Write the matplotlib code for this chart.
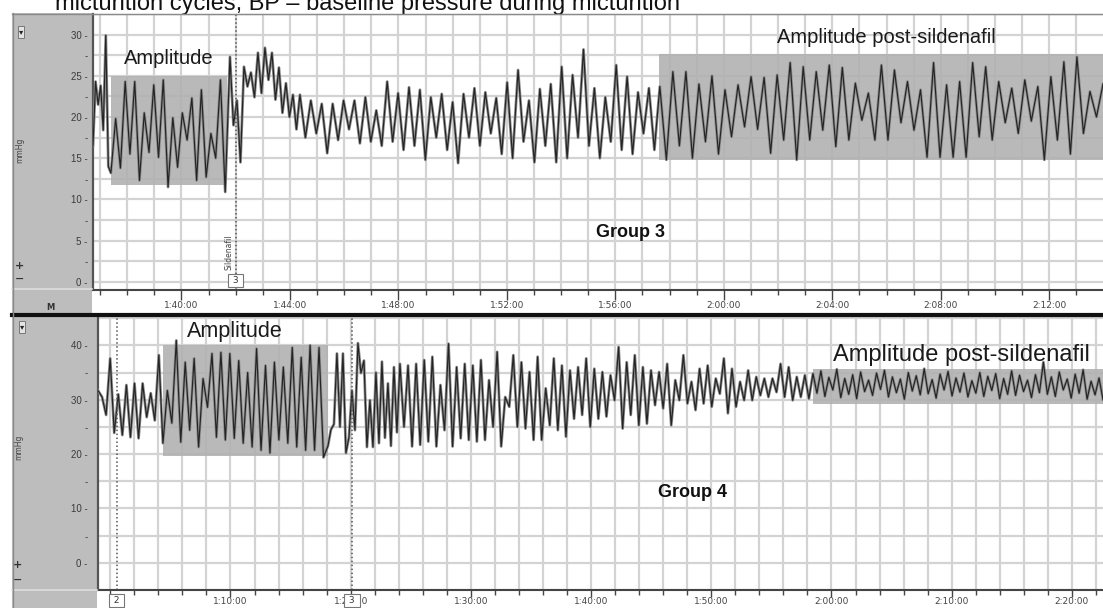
import numpy as np
import matplotlib
matplotlib.use("Agg")
import matplotlib.pyplot as plt
from matplotlib.patches import Rectangle
from matplotlib.lines import Line2D

plt.rcParams['font.family'] = ['Liberation Sans', 'DejaVu Sans']

# ------------------------------------------------------------------ data
caption = "micturition cycles, BP \u2013 baseline pressure during micturition"

# ---- Group 3 (top trace), time in minutes, pressure in mmHg
g3_title = "Group 3"
g3_xlim = (96.74, 133.98)
g3_ylim = (-1.0, 32.5)
g3_yticks = [0, 5, 10, 15, 20, 25, 30]
g3_yminor = [2.5, 7.5, 12.5, 17.5, 22.5, 27.5]
g3_xticks = [100, 104, 108, 112, 116, 120, 124, 128, 132]
g3_xticklabels = ["1:40:00", "1:44:00", "1:48:00", "1:52:00", "1:56:00",
                  "2:00:00", "2:04:00", "2:08:00", "2:12:00"]
g3_bounds = [96.74, 97.40, 101.79, 104.37, 117.64, 133.98]
g3_pre = [16.5, 24.3, 21.5, 23.8, 18.4, 29.9, 14.0]
g3_amp = [13.2, 19.8, 13.8, 24.3, 15.5, 24.3, 12.3, 20.5, 15.7, 23.9, 15.1,
          24.5, 11.5, 19.9, 13.9, 20.5, 17.2, 22.3, 12.3, 23.3, 12.7, 18.0,
          15.0, 24.5, 10.9]
g3_rise = [27.3, 19.0, 22.0, 14.5, 26.1, 23.7, 25.4, 22.4, 27.8, 22.9, 28.4,
           24.5, 27.8, 22.1, 26.0, 20.5, 24.1, 20.0, 22.7, 18.5]
g3_mid = [22.7, 17.5, 22.0, 18.0, 21.6, 15.6, 21.6, 17.2, 22.0, 18.5, 22.0,
          16.8, 22.4, 17.0, 20.8, 16.5, 24.3, 17.0, 22.9, 16.0,
          23.6, 16.5, 23.3, 14.8, 22.4, 17.5, 22.8, 16.0, 21.8, 14.4, 22.8,
          17.5, 23.5, 16.5, 23.0, 18.0, 22.3, 15.5, 24.2, 15.0, 25.7, 17.0,
          22.0, 14.5, 23.4, 16.5, 24.0, 14.5, 26.1, 15.0, 25.1, 17.5, 28.2,
          16.5, 23.5, 15.0, 22.4, 17.0, 26.3, 16.0, 24.9, 15.5, 23.0, 18.0,
          23.5, 16.0]
g3_post = [23.7, 14.8, 25.5, 16.5, 25.5, 15.0, 24.0, 17.0, 25.0, 15.5,
           23.3, 17.6, 23.9, 18.8, 24.9, 18.5, 24.8, 15.6, 25.1, 17.2,
           26.6, 14.8, 26.1, 17.2, 25.5, 18.4, 26.3, 16.4, 26.0, 17.2,
           24.1, 19.6, 22.9, 17.2, 26.3, 17.2, 25.7, 19.3, 24.3, 18.4,
           23.3, 15.1, 26.6, 15.1, 23.9, 15.1, 24.3, 15.1, 26.6, 17.6,
           26.1, 17.2, 24.3, 19.3, 23.5, 18.0, 24.5, 19.5, 23.7, 14.8,
           24.9, 17.2, 26.7, 15.5, 27.3, 18.0, 23.1, 20.0, 24.0]
g3_marker_time = 102.0
g3_marker_text = "Sildenafil"
g3_marker_num = "3"
g3_amp_box = (97.40, 101.68, 11.8, 25.0)
g3_post_box = (117.61, 134.5, 14.75, 27.7)

# ---- Group 4 (bottom trace)
g4_title = "Group 4"
g4_xlim = (58.98, 142.59)
g4_ylim = (-4.86, 45.4)
g4_yticks = [0, 10, 20, 30, 40]
g4_yminor = [5, 15, 25, 35]
g4_xticks = [70, 80, 90, 100, 110, 120, 130, 140]
g4_xticklabels = ["1:10:00", "1:20:00", "1:30:00", "1:40:00", "1:50:00",
                  "2:00:00", "2:10:00", "2:20:00"]
g4_bounds = [58.98, 64.38, 78.11, 84.10, 118.46, 142.59]
g4_pre = [31.7, 30.5, 27.2, 37.6, 23.9, 31.0, 23.5, 32.7, 23.1, 33.0, 22.9,
          33.0, 26.8, 31.2, 26.2, 38.2]
g4_amp = [22.0, 31.7, 25.7, 40.9, 22.2, 36.9, 24.4, 37.6, 21.3, 33.9, 28.6,
          38.5, 23.1, 38.7, 22.6, 38.5, 22.9, 37.2, 22.0, 35.0, 21.3, 39.4,
          20.7, 36.3, 20.2, 36.9, 22.6, 36.0, 22.0, 39.6, 21.3, 37.8, 20.7,
          40.0, 20.7, 39.6, 19.4]
g4_after = [21.5, 24.5, 25.5, 38.5, 25.0, 38.5, 20.2, 23.1, 31.7, 24.4, 40.4,
            34.9, 37.2, 21.3, 29.9, 21.3, 35.0, 22.0, 37.0, 23.0, 33.0, 21.5,
            36.0, 24.0]
g4_mid_peaks = [36.6, 36.3, 36.6, 37.3, 37.9, 32.7, 40.3, 36.0, 36.6, 36.3,
                37.3, 33.6, 38.8, 30.5, 38.2, 36.9, 35.1, 37.9, 32.1, 37.6,
                36.3, 35.4, 36.0, 37.6, 35.7, 35.1, 34.5, 39.7, 36.9, 38.2,
                36.0, 35.4, 35.1, 36.6, 33.6, 38.2, 33.3, 35.7, 36.3, 33.9,
                37.6, 35.7, 33.3, 35.4, 34.2, 33.9, 33.9, 36.6, 36.0, 34.2,
                34.5]
g4_mid_troughs = [25.0, 21.4, 21.7, 22.3, 21.4, 24.4, 21.4, 22.9, 22.6, 22.3,
                  22.6, 25.0, 21.4, 28.7, 25.0, 24.7, 22.6, 22.6, 25.3, 24.4,
                  23.2, 26.5, 27.2, 25.0, 26.5, 26.9, 29.9, 24.7, 27.2, 25.3,
                  25.6, 29.0, 28.4, 25.3, 29.9, 29.3, 28.1, 29.3, 28.7, 31.1,
                  27.5, 28.7, 29.9, 29.9, 30.8, 30.5, 31.4, 30.5, 29.9, 30.5,
                  30.2]
g4_post = [34.8, 31.2, 35.3, 30.6, 34.1, 31.8, 35.6, 30.4, 33.9, 31.0, 34.6,
           30.2, 35.1, 31.5, 33.6, 30.8, 34.9, 31.9, 35.4, 30.5, 34.2, 31.3,
           33.8, 30.1, 35.0, 31.6, 34.4, 30.9, 35.7, 31.1, 33.7, 30.3, 34.7,
           31.8, 35.2, 30.7, 34.0, 31.4, 34.9, 30.5, 33.5, 31.2, 35.0, 30.6,
           34.3, 31.7, 34.8, 30.2, 33.9, 31.0, 35.3, 30.8, 34.5, 31.5, 33.6,
           30.4, 34.6, 31.3, 36.9, 31.0, 34.2, 30.6, 35.1, 31.8, 33.8, 30.3,
           34.7, 31.2, 35.5, 30.1, 33.4, 30.9, 34.0, 30.0]
g4_marker_times = [60.56, 80.11]
g4_marker_nums = ["2", "3"]
g4_amp_box = (64.38, 78.11, 19.6, 40.0)
g4_post_box = (118.46, 143.5, 29.2, 35.6)

# ------------------------------------------------------------------ helpers
W, H = 1103, 608
fig = plt.figure(figsize=(W / 100, H / 100), dpi=100)
fig.patch.set_facecolor('white')


def px_box(x0, y0, x1, y1):
    return [x0 / W, 1 - y1 / H, (x1 - x0) / W, (y1 - y0) / H]


def series(bounds, segs):
    ts, vs = [], []
    for i, seg in enumerate(segs):
        last = (i == len(segs) - 1)
        ts.append(np.linspace(bounds[i], bounds[i + 1], len(seg), endpoint=last))
        vs.append(np.asarray(seg, float))
    return np.concatenate(ts), np.concatenate(vs)


def fig_rect(x0, y0, x1, y1, **kw):
    fig.add_artist(Rectangle((x0 / W, 1 - y1 / H), (x1 - x0) / W, (y1 - y0) / H,
                             transform=fig.transFigure, **kw))


def fig_hline(x0, x1, y, **kw):
    fig.add_artist(Line2D([x0 / W, x1 / W], [1 - y / H, 1 - y / H],
                          transform=fig.transFigure, **kw))


SIDE = '#bdbdbd'
GRID = '#d3d3d3'
SHADE = '#b0b0b0'

# ------------------------------------------------------------------ frame
fig_rect(12, 13, 92, 313, fc=SIDE, ec='none', zorder=0)
fig_rect(12, 316, 97, 608, fc=SIDE, ec='none', zorder=0)
fig_hline(12, 92, 289, color='#dedede', lw=1.2, zorder=1)
fig_hline(12, 97, 590, color='#dedede', lw=1.2, zorder=1)
fig_hline(12, 1103, 13.5, color='#8a8a8a', lw=1.0, zorder=5)
fig_hline(12, 1103, 314.5, color='#111111', lw=3.0, zorder=5)
fig.add_artist(Line2D([12.5 / W] * 2, [1 - 13 / H, 0], transform=fig.transFigure,
                      color='#8a8a8a', lw=1.0, zorder=5))

fig.text(55 / W, 1 - 10 / H, caption, fontsize=17, ha='left', va='baseline',
         color='#111111')


def draw_panel(box, strip_box, xlim, ylim, yticks, yminor, ypad, xgrid, ygrid,
               t, v, xticks, xlabels, xminor, lab_y, lab_size, major_len):
    ax = fig.add_axes(box)
    ax.set_xlim(*xlim)
    ax.set_ylim(*ylim)
    ax.set_facecolor('white')
    for s in ['right', 'bottom']:
        ax.spines[s].set_visible(False)
    ax.spines['top'].set_color('#9a9a9a')
    ax.spines['left'].set_color('#555555')
    ax.spines['left'].set_linewidth(1.6)
    ax.set_xticks(xgrid)
    ax.set_xticklabels([])
    ax.tick_params(axis='x', length=0)
    ax.set_yticks(yticks)
    ax.set_yticklabels([f"{y} -" for y in yticks])
    ax.set_yticks(ygrid, minor=True)
    ax.set_yticklabels(["-" if y in yminor else "" for y in ygrid], minor=True)
    ax.tick_params(axis='y', which='both', length=0, pad=ypad, labelsize=7,
                   labelcolor='#3a3a3a')
    ax.grid(True, which='both', color=GRID, lw=1.6, zorder=0)
    ax.set_axisbelow(True)
    ax.plot(t, v, color='#8c8c8c', lw=2.0, zorder=3)
    ax.plot(t, v, color='#242424', lw=0.85, zorder=4)

    st = fig.add_axes(strip_box, sharex=ax)
    st.set_ylim(0, 1)
    st.set_facecolor('white')
    for s in ['left', 'right', 'bottom']:
        st.spines[s].set_visible(False)
    st.spines['top'].set_color('#444444')
    st.spines['top'].set_linewidth(1.5)
    st.xaxis.set_ticks_position('top')
    st.set_yticks([])
    st.set_xticks(xticks)
    st.set_xticks(xminor, minor=True)
    st.tick_params(axis='x', which='major', direction='in', length=major_len,
                   width=1.0, color='#444444', labeltop=False, labelbottom=False)
    st.tick_params(axis='x', which='minor', direction='in', length=3.5,
                   width=1.0, color='#444444')
    for xt, lab in zip(xticks, xlabels):
        st.text(xt, lab_y, lab, ha='center', va='center', fontsize=lab_size,
                family='DejaVu Sans', color='#444444', clip_on=False)
    return ax, st


# ------------------------------------------------------------------ Group 3
t3, v3 = series(g3_bounds, [g3_pre, g3_amp, g3_rise, g3_mid, g3_post])
ax3, st3 = draw_panel(px_box(93, 14, 1103, 290), px_box(93, 290, 1103, 313),
                      g3_xlim, g3_ylim, g3_yticks, g3_yminor, 4.0,
                      np.arange(97, 134, 1), np.arange(0, 32.6, 2.5), t3, v3,
                      g3_xticks, g3_xticklabels, np.arange(97, 134, 1),
                      0.34, 6.5, 7)
for (x0, x1, y0, y1) in [g3_amp_box, g3_post_box]:
    ax3.add_patch(Rectangle((x0, y0), x1 - x0, y1 - y0, fc=SHADE, ec='none',
                            alpha=0.88, zorder=2, clip_on=True))
ax3.axvline(g3_marker_time, color='#555555', lw=1.1, ls=(0, (1, 1.6)), zorder=5)
ax3.text(101.74, 3.6, g3_marker_text, rotation=90, ha='center', va='center',
         fontsize=5.5, family='DejaVu Sans', color='#444444', zorder=6)
ax3.text(g3_marker_time, 0.15, f" {g3_marker_num} ", ha='center', va='center',
         fontsize=6.5, family='DejaVu Sans', color='#333333', zorder=6,
         bbox=dict(boxstyle='square,pad=0.2', fc='white', ec='#777777', lw=0.8))
ax3.text(99.54, 27.1, "Amplitude", fontsize=14.5, ha='center', va='center',
         color='#1a1a1a', zorder=6)
ax3.text(126.0, 29.7, "Amplitude post-sildenafil", fontsize=14.5, ha='center',
         va='center', color='#1a1a1a', zorder=6)
ax3.text(116.54, 6.0, g3_title, fontsize=13, fontweight='bold', ha='center',
         va='center', color='#111111', zorder=6)

# ------------------------------------------------------------------ Group 4
g4_mid = np.column_stack([g4_mid_peaks, g4_mid_troughs]).ravel()
t4, v4 = series(g4_bounds, [g4_pre, g4_amp, g4_after, g4_mid, g4_post])
ax4, st4 = draw_panel(px_box(98, 316, 1103, 590), px_box(98, 590, 1103, 608),
                      g4_xlim, g4_ylim, g4_yticks, g4_yminor, 7.5,
                      np.arange(60, 143, 2), np.arange(-5, 45.1, 5), t4, v4,
                      g4_xticks, g4_xticklabels, np.arange(60, 143, 2),
                      0.36, 6.5, 5)
for (x0, x1, y0, y1) in [g4_amp_box, g4_post_box]:
    ax4.add_patch(Rectangle((x0, y0), x1 - x0, y1 - y0, fc=SHADE, ec='none',
                            alpha=0.88, zorder=2, clip_on=True))
for mt, num in zip(g4_marker_times, g4_marker_nums):
    ax4.axvline(mt, color='#555555', lw=1.1, ls=(0, (1, 1.6)), zorder=5)
    st4.text(mt, 0.42, f" {num} ", ha='center', va='center', fontsize=6.5,
             family='DejaVu Sans', color='#333333', zorder=6,
             bbox=dict(boxstyle='square,pad=0.2', fc='white', ec='#777777',
                       lw=0.8))
ax4.text(70.37, 42.5, "Amplitude", fontsize=15.5, ha='center', va='center',
         color='#1a1a1a', zorder=6)
ax4.text(130.85, 38.3, "Amplitude post-sildenafil", fontsize=17, ha='center',
         va='center', color='#1a1a1a', zorder=6)
ax4.text(108.48, 12.9, g4_title, fontsize=13, fontweight='bold', ha='center',
         va='center', color='#111111', zorder=6)

# ------------------------------------------------------------------ sidebar widgets
for (x, y) in [(20, 150), (19, 447)]:
    fig.text(x / W, 1 - y / H, "mmHg", rotation=90, ha='center', va='center',
             fontsize=5.5, family='DejaVu Sans', color='#444444')
for (x, y) in [(21, 32), (22, 327)]:
    fig.text(x / W, 1 - y / H, "\u25BE", ha='center', va='center', fontsize=6,
             family='DejaVu Sans', color='#222222',
             bbox=dict(boxstyle='square,pad=0.15', fc='#e4e4e4', ec='#777777',
                       lw=0.7))
for (x, y, s) in [(20, 266, "+"), (20, 279, "\u2212"), (17, 565, "+"),
                  (18, 580, "\u2212")]:
    fig.text(x / W, 1 - y / H, s, ha='center', va='center', fontsize=8,
             fontweight='bold', family='DejaVu Sans', color='#333333')
fig.text(50 / W, 1 - 308 / H, "M", ha='center', va='center', fontsize=6,
         fontweight='bold', family='DejaVu Sans', color='#333333')

fig.savefig("out.png", dpi=100, facecolor='white')
